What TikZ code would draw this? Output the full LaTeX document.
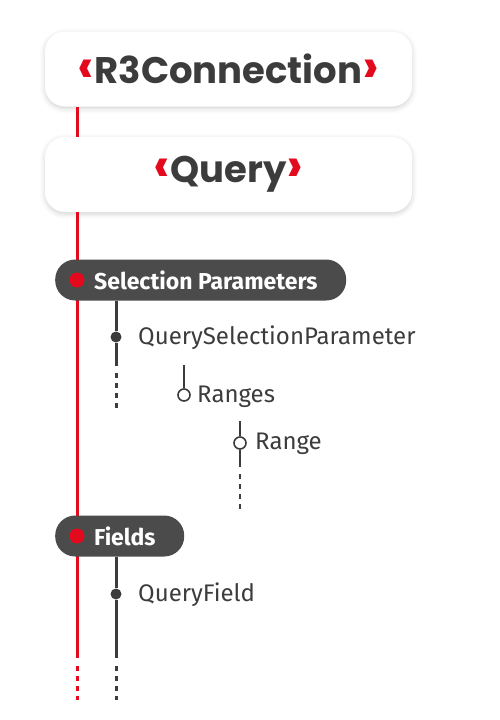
\documentclass[tikz,border=0pt]{standalone}
\usepackage{fontspec}
\usepackage{tikz}
\usetikzlibrary{shadows.blur}
\newfontfamily\titlefont{Poppins}
\newfontfamily\labelfont{Fira Sans}
\definecolor{r3red}{HTML}{E30A1E}
\definecolor{r3dark}{HTML}{3C3C3C}
\definecolor{r3pill}{HTML}{4B4B4B}
\tikzset{
  titlebox/.style={draw=none, fill=white, rounded corners=20pt, minimum width=367pt, minimum height=75pt,
    blur shadow={shadow xshift=0pt, shadow yshift=-2pt, shadow blur radius=5pt, shadow opacity=18}},
  titletext/.style={font=\titlefont\bfseries\fontsize{37}{41}\selectfont, text=r3dark},
  pill/.style={fill=r3pill, rounded corners=20pt, minimum height=41pt, inner sep=0pt, anchor=west},
  pilltext/.style={font=\labelfont\bfseries\fontsize{23}{27}\selectfont, text=white, anchor=west, inner sep=0pt},
  itemtext/.style={font=\labelfont\fontsize{24}{28}\selectfont, text=r3dark, anchor=west, inner sep=0pt},
  reddot/.style={circle, fill=r3red, minimum size=15pt, inner sep=0pt},
  fulldot/.style={circle, fill=r3dark, minimum size=11pt, inner sep=0pt},
  opendot/.style={circle, draw=r3dark, fill=white, line width=1.6pt, minimum size=12pt, inner sep=0pt},
  redline/.style={draw=r3red, line width=3pt},
  greyline/.style={draw=r3dark, line width=3pt},
  thinline/.style={draw=r3dark, line width=1.8pt},
  dots/.style={dash pattern=on 5pt off 5pt}
}
\newcommand{\tagof}[1]{{\color{r3red}\scalebox{1.35}{‹}}#1{\color{r3red}\scalebox{1.35}{›}}}
\begin{document}
\begin{tikzpicture}[x=1pt,y=-1pt]
    \useasboundingbox (0,0) rectangle (500,720);

    % main red spine
    \coordinate (spine) at (77,0);
    \coordinate (spineend) at (77,658);

    % draw title boxes
    \node[titlebox] (conn) at (228.5,69) {};
    \node[titletext] (conntext) at (conn) {\tagof{R3Connection}};
    \node[titlebox] (query) at (228.5,174.5) {};
    \node[titletext] (querytext) at (query) {\tagof{Query}};

    \draw[redline] (conn.south -| spine) -- (query.north -| spine);
    \draw[redline] (query.south -| spine) -- (spineend);
    \draw[redline, dots] ([yshift=-8pt]spineend) -- (77,700);

    % draw selection parameters
    \node[pill, minimum width=291pt] (sel) at (55,280) {};
    \node[reddot] (seldot) at (sel.west -| spine) {};
    \node[pilltext] (seltext) at (94,280) {Selection Parameters};

    \node[fulldot] (qspdot) at (116,337) {};
    \node[itemtext] (qsp) at (138,338) {QuerySelectionParameter};
    \coordinate (qspend) at (116,366);
    \draw[greyline] (sel.south -| qspdot) -- (qspdot) -- (qspend);
    \draw[greyline, dots] ([yshift=-7pt]qspend) -- (116,410);

    \node[opendot] (rangesdot) at (184,395) {};
    \node[itemtext] (ranges) at (197,397) {Ranges};
    \draw[thinline] (184,365) -- (rangesdot.north);

    \node[opendot] (rangedot) at (240,443) {};
    \node[itemtext] (range) at (255,444) {Range};
    \coordinate (rangeend) at (240,467);
    \draw[thinline] (240,421) -- (rangedot.north);
    \draw[thinline] (rangedot.south) -- (rangeend);
    \draw[thinline, dots] ([yshift=-7pt]rangeend) -- (240,509);

    % draw fields
    \node[pill, minimum width=129pt] (fields) at (55,536) {};
    \node[reddot] (fieldsdot) at (fields.west -| spine) {};
    \node[pilltext] (fieldstext) at (94,536) {Fields};

    \node[fulldot] (qfdot) at (116,594) {};
    \node[itemtext] (qf) at (138,595) {QueryField};
    \coordinate (qfend) at (116,658);
    \draw[greyline] (fields.south -| qfdot) -- (qfdot) -- (qfend);
    \draw[greyline, dots] ([yshift=-8pt]qfend) -- (116,700);
\end{tikzpicture}
\end{document}
